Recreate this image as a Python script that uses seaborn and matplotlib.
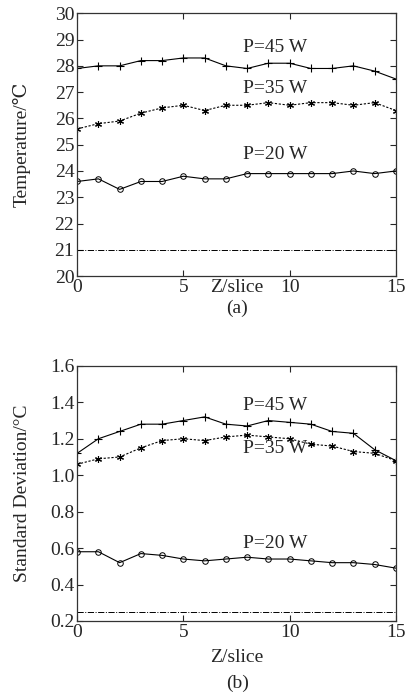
import pandas as pd
import seaborn as sns
import matplotlib
matplotlib.use("Agg")
import matplotlib.pyplot as plt

sns.set_style("ticks")
plt.rcParams.update({
    "font.family": ["Liberation Serif", "DejaVu Serif"],
    "font.size": 14,
    "xtick.direction": "in",
    "ytick.direction": "in",
    "xtick.top": True,
    "ytick.right": True,
    "xtick.major.size": 4,
    "ytick.major.size": 4,
    "axes.linewidth": 0.9,
    "axes.edgecolor": "#333333",
})

z_slice = list(range(16))

# (a) temperature, degC
temp_45w = [27.9, 28.0, 28.0, 28.2, 28.2, 28.3, 28.3, 28.0, 27.9, 28.1, 28.1, 27.9, 27.9, 28.0, 27.8, 27.5]
temp_35w = [25.6, 25.8, 25.9, 26.2, 26.4, 26.5, 26.3, 26.5, 26.5, 26.6, 26.5, 26.6, 26.6, 26.5, 26.6, 26.3]
temp_20w = [23.6, 23.7, 23.3, 23.6, 23.6, 23.8, 23.7, 23.7, 23.9, 23.9, 23.9, 23.9, 23.9, 24.0, 23.9, 24.0]
temp_base = 21.0

# (b) standard deviation, degC
std_45w = [1.12, 1.20, 1.24, 1.28, 1.28, 1.30, 1.32, 1.28, 1.27, 1.30, 1.29, 1.28, 1.24, 1.23, 1.14, 1.08]
std_35w = [1.06, 1.09, 1.10, 1.15, 1.19, 1.20, 1.19, 1.21, 1.22, 1.21, 1.20, 1.17, 1.16, 1.13, 1.12, 1.08]
std_20w = [0.58, 0.58, 0.52, 0.57, 0.56, 0.54, 0.53, 0.54, 0.55, 0.54, 0.54, 0.53, 0.52, 0.52, 0.51, 0.49]
std_base = 0.25

series_labels = ["P=45 W", "P=35 W", "P=20 W"]


def one_line(ax, vals, name, marker, dash, **kw):
    df = pd.DataFrame({"z": z_slice, "v": vals, "s": name})
    sns.lineplot(data=df, x="z", y="v", style="s", ax=ax, color="black",
                 markers={name: marker}, dashes={name: dash}, lw=0.8,
                 mec="black", legend=False, **kw)


def draw_panel(ax, s45, s35, s20, base, label_y):
    one_line(ax, s45, "45", "+", "", markersize=6, mew=0.8)
    # six-armed asterisk like the original
    one_line(ax, s35, "35", (6, 2, 0), (2, 1.5), markersize=5, mew=0.8)
    one_line(ax, s20, "20", "o", "", markersize=4, mfc="none", mew=0.7)
    ax.axhline(base, color="black", lw=0.7, linestyle="-.")
    for lab, yy in zip(series_labels, label_y):
        ax.text(7.8, yy, lab, ha="left", va="center", fontsize=14)
    ax.set_xlim(0, 15)
    ax.set_xticks([0, 5, 10, 15])
    ax.tick_params(labelsize=14, pad=2)


fig = plt.figure(figsize=(4.06, 6.99), dpi=100)
ax1 = fig.add_axes([0.19, 0.605, 0.785, 0.376])
ax2 = fig.add_axes([0.19, 0.1116, 0.785, 0.365])

draw_panel(ax1, temp_45w, temp_35w, temp_20w, temp_base, [28.7, 27.15, 24.62])
ax1.set_ylim(20, 30)
ax1.set_yticks(range(20, 31))
ax1.set_ylabel("Temperature/℃", fontsize=14)
ax1.set_xlabel("Z/slice", fontsize=14)
ax1.yaxis.set_label_coords(-0.145, 0.5)
ax1.xaxis.set_label_coords(0.5, -0.01)

draw_panel(ax2, std_45w, std_35w, std_20w, std_base, [1.38, 1.145, 0.625])
ax2.set_ylim(0.2, 1.6)
ax2.set_yticks([0.2, 0.4, 0.6, 0.8, 1.0, 1.2, 1.4, 1.6])
ax2.set_yticklabels(["0.2", "0.4", "0.6", "0.8", "1.0", "1.2", "1.4", "1.6"])
ax2.set_ylabel("Standard Deviation/°C", fontsize=14)
ax2.set_xlabel("Z/slice", fontsize=14)
ax2.yaxis.set_label_coords(-0.145, 0.5)
ax2.xaxis.set_label_coords(0.5, -0.11)

fig.text(0.584, 0.559, "(a)", ha="center", va="center", fontsize=14)
fig.text(0.584, 0.023, "(b)", ha="center", va="center", fontsize=14)

fig.savefig("out.png", dpi=100)
